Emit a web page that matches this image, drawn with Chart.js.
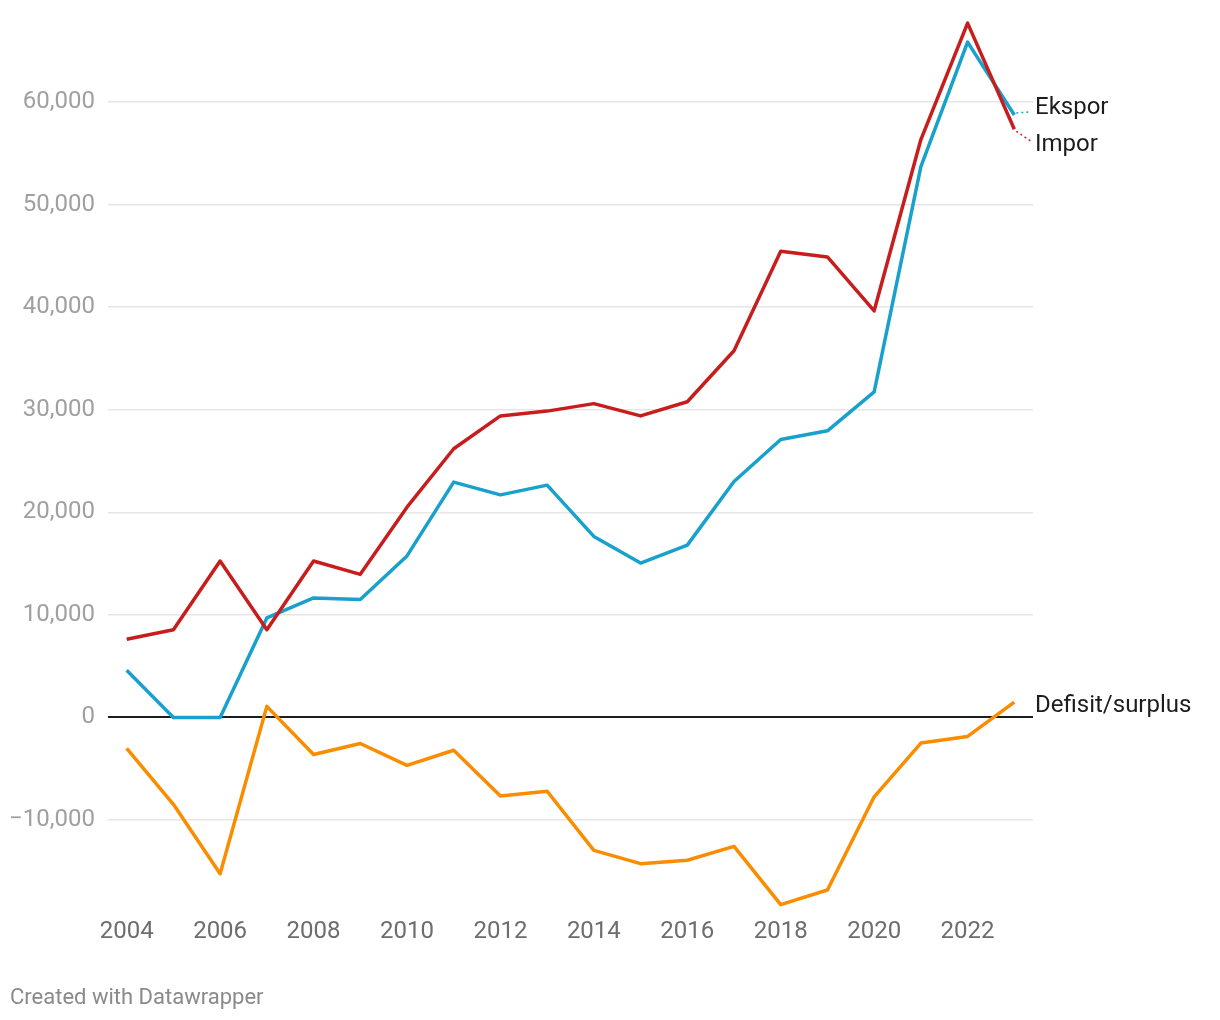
<!DOCTYPE html>
<html>
<head>
<meta charset="utf-8">
<script src="https://cdn.jsdelivr.net/npm/chart.js@4.4.1/dist/chart.umd.min.js"></script>
<style>
  html, body { margin: 0; padding: 0; background: #fff; }
  .chart-wrap { position: relative; width: 1220px; height: 1020px; }
  .credit { position: absolute; left: 10px; top: 984px; font: 22px Roboto, sans-serif; color: #8a8a8a; }
</style>
</head>
<body>
<div class="chart-wrap">
  <canvas id="chart" width="1220" height="1020"></canvas>
  <div class="credit">Created with Datawrapper</div>
</div>
<script>
const years = [2004, 2005, 2006, 2007, 2008, 2009, 2010, 2011, 2012, 2013,
  2014, 2015, 2016, 2017, 2018, 2019, 2020, 2021, 2022, 2023];
const ekspor = [4600, 0, 0, 9700, 11650, 11500, 15750, 22950, 21700, 22650,
  17650, 15050, 16800, 23000, 27100, 27950, 31750, 53700, 65850, 58750];
const impor = [7620, 8550, 15250, 8550, 15250, 13950, 20500, 26200, 29400, 29870,
  30600, 29400, 30780, 35750, 45450, 44900, 39650, 56350, 67700, 57350];
const defisit = [-3030, -8470, -15240, 1075, -3620, -2540, -4670, -3200, -7660, -7200,
  -12960, -14260, -13930, -12570, -18260, -16830, -7740, -2500, -1850, 1500];
const xTicks = [2004, 2006, 2008, 2010, 2012, 2014, 2016, 2018, 2020, 2022];
const yTicks = [-10000, 0, 10000, 20000, 30000, 40000, 50000, 60000];

const FONT = 'Roboto, sans-serif';

// label nudges so Ekspor / Impor don't collide at the end of the lines
const labelShift = { Ekspor: -7, Impor: 16, 'Defisit/surplus': 4 };

const endLabels = {
  id: 'endLabels',
  afterDatasetsDraw(chart) {
    const { ctx, chartArea } = chart;
    const textX = chartArea.right + 2;
    ctx.save();
    ctx.font = '24px ' + FONT;
    ctx.textBaseline = 'middle';
    chart.data.datasets.forEach((ds, i) => {
      const meta = chart.getDatasetMeta(i);
      const last = meta.data[meta.data.length - 1];
      const shift = labelShift[ds.label] || 0;
      const y = last.y + shift;
      if (Math.abs(shift) > 5) {
        ctx.strokeStyle = ds.borderColor;
        ctx.lineWidth = 1.5;
        ctx.setLineDash([2, 3]);
        ctx.beginPath();
        ctx.moveTo(last.x + 2, last.y + Math.sign(shift) * 2);
        ctx.lineTo(textX - 4, y - Math.sign(shift) * 4);
        ctx.stroke();
        ctx.setLineDash([]);
      }
      ctx.fillStyle = '#1d1d1d';
      ctx.fillText(ds.label, textX, y);
    });
    ctx.restore();
  }
};

function toPoints(values) {
  return values.map((v, i) => ({ x: years[i], y: v }));
}

function lineSet(label, values, color) {
  return {
    label,
    data: toPoints(values),
    borderColor: color,
    backgroundColor: color,
    borderWidth: 3.5,
    pointRadius: 0,
    tension: 0,
    borderJoinStyle: 'round',
    fill: false
  };
}

new Chart(document.getElementById('chart'), {
  type: 'line',
  data: {
    datasets: [
      lineSet('Impor', impor, '#c71e1d'),
      lineSet('Ekspor', ekspor, '#18a1cd'),
      lineSet('Defisit/surplus', defisit, '#fa8c00')
    ]
  },
  options: {
    responsive: false,
    animation: false,
    devicePixelRatio: 1,
    layout: { padding: { top: 17, right: 187, bottom: 62.6, left: 0 } },
    plugins: {
      legend: { display: false },
      tooltip: { enabled: false }
    },
    scales: {
      x: {
        type: 'linear',
        min: 2003.6,
        max: 2023.4,
        afterBuildTicks: (scale) => { scale.ticks = xTicks.map((v) => ({ value: v })); },
        afterFit: (scale) => { scale.height = 40; },
        grid: { display: false, drawTicks: false },
        border: { display: false },
        ticks: {
          padding: 0,
          color: '#6d6d6d',
          font: { family: FONT, size: 24 },
          maxRotation: 0,
          callback: (value) => String(value)
        }
      },
      y: {
        min: -19500,
        max: 68300,
        afterBuildTicks: (scale) => { scale.ticks = yTicks.map((v) => ({ value: v })); },
        afterFit: (scale) => {
          scale.width = 108;
          scale.paddingTop = 0;
          scale.paddingBottom = 0;
        },
        grid: {
          drawTicks: false,
          color: (c) => (c.tick && c.tick.value === 0 ? '#1d1d1d' : '#e6e6e6'),
          lineWidth: (c) => (c.tick && c.tick.value === 0 ? 2 : 1.5)
        },
        border: { display: false },
        ticks: {
          padding: 13,
          color: '#a0a0a0',
          font: { family: FONT, size: 24 },
          callback: (value) => {
            const s = Math.abs(value).toLocaleString('en-US');
            return value < 0 ? '\u2212' + s : s;
          }
        }
      }
    }
  },
  plugins: [endLabels]
});
</script>
</body>
</html>
